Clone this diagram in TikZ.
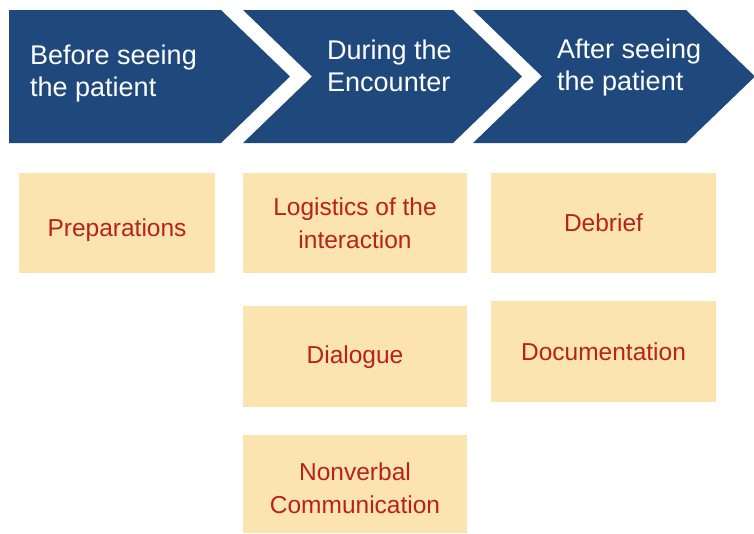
\documentclass[tikz,border=0pt]{standalone}
\usepackage{fontspec}
\setmainfont{Liberation Sans}
\definecolor{chevblue}{RGB}{31,73,125}
\definecolor{boxfill}{RGB}{252,228,176}
\definecolor{boxtext}{RGB}{184,34,28}
\begin{document}
\begin{tikzpicture}[x=1pt,y=-1pt,
  chev/.style={fill=chevblue,draw=none},
  chevtext/.style={anchor=west,align=left,text=white,font=\fontsize{27}{32}\selectfont,inner sep=0pt},
  itembox/.style={fill=boxfill,draw=none,anchor=north west,inner sep=0pt},
  itemtext/.style={align=center,text=boxtext,inner sep=0pt,font=\fontsize{24.5}{33}\selectfont}
]
\useasboundingbox (0,0) rectangle (754,533);
% chevrons
\fill[chev] (9,10) -- (221,10) -- (290,76.5) -- (221,143) -- (9,143) -- cycle;
\fill[chev] (243,10) -- (453,10) -- (522,76.5) -- (453,143) -- (243,143) -- (312,76.5) -- cycle;
\fill[chev] (473,10) -- (686,10) -- (755,76.5) -- (686,143) -- (473,143) -- (542,76.5) -- cycle;
\node[chevtext] (c1) at (30,74) {Before seeing\\the patient};
\node[chevtext] (c2) at (327,66) {During the\\Encounter};
\node[chevtext] (c3) at (557,68) {After seeing\\the patient};
% boxes
\node[itembox,minimum width=196pt,minimum height=100pt] (b1) at (19,173) {};
\node[itembox,minimum width=224pt,minimum height=100pt] (b2) at (243,173) {};
\node[itembox,minimum width=224pt,minimum height=101pt] (b3) at (243,306) {};
\node[itembox,minimum width=224pt,minimum height=98pt] (b4) at (243,435) {};
\node[itembox,minimum width=225pt,minimum height=100pt] (b5) at (491,173) {};
\node[itembox,minimum width=225pt,minimum height=101pt] (b6) at (491,301) {};
\node[itemtext] (t1) at (117,230) {Preparations};
\node[itemtext] (t2) at (355,223.5) {Logistics of the\\interaction};
\node[itemtext] (t3) at (355,357) {Dialogue};
\node[itemtext] (t4) at (355,488.5) {Nonverbal\\Communication};
\node[itemtext] (t5) at (603.5,223) {Debrief};
\node[itemtext] (t6) at (603.5,352) {Documentation};
\end{tikzpicture}
\end{document}
